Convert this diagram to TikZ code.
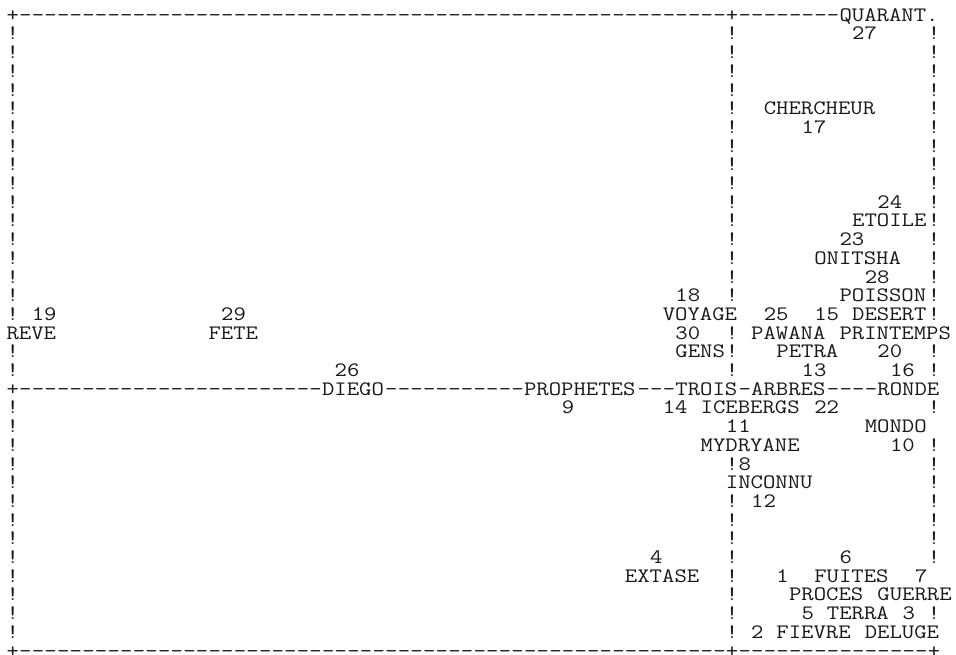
\documentclass[tikz,border=0pt]{standalone}
\usepackage{fontspec}
\usepackage{graphicx}
\newcommand\sx[1]{\scalebox{1.1726}[1]{#1}}
% text chunk placed at column #2, row #3
\newcommand\lbl[4]{\node[lab] (#1) at ({6.6+12.62*(#2)},{-21.2-18.7*(#3)}) {\sx{#4}};}
\tikzset{lab/.style={anchor=base west, inner sep=0pt, outer sep=0pt,
  font=\fontsize{20.5}{20.5}\selectfont\ttfamily, text=black!90}}
\begin{document}
\begin{tikzpicture}[x=1pt,y=1pt]
\fill[white] (0,-654) rectangle (956,0);
\useasboundingbox (0,-654) rectangle (956,0);
% vertical borders
\foreach \r in {1,2,3,4,5,6,7,8,9,10,11,12,13,14,15,16,18,19,21,22,23,24,25,26,27,28,29,30,31,32,33}
  {\lbl{bl\r}{0}{\r}{!}}
\foreach \r in {1,2,3,4,5,6,7,8,9,10,11,12,13,14,15,17,18,19,24,26,27,28,29,30,31,32,33}
  {\lbl{bm\r}{57}{\r}{!}}
\foreach \r in {1,2,3,4,5,6,7,8,9,10,11,12,13,14,15,16,18,19,21,23,24,25,26,27,28,29,32}
  {\lbl{br\r}{73}{\r}{!}}
% top line
\lbl{ctl}{0}{0}{+}
\foreach \c in {1,...,56} {\lbl{td\c}{\c}{0}{-}}
\lbl{ctm}{57}{0}{+}
\foreach \c in {58,...,65} {\lbl{td\c}{\c}{0}{-}}
\lbl{quarant}{66}{0}{QUARANT.}
% axis line
\lbl{cml}{0}{20}{+}
\foreach \c in {1,...,24} {\lbl{ad\c}{\c}{20}{-}}
\lbl{diego}{25}{20}{DIEGO}
\foreach \c in {30,...,40} {\lbl{ad\c}{\c}{20}{-}}
\lbl{prophetes}{41}{20}{PROPHETES}
\foreach \c in {50,51,52} {\lbl{ad\c}{\c}{20}{-}}
\lbl{trois}{53}{20}{TROIS}
\lbl{ad58}{58}{20}{-}
\lbl{arbres}{59}{20}{ARBRES}
\foreach \c in {65,...,68} {\lbl{ad\c}{\c}{20}{-}}
\lbl{ronde}{69}{20}{RONDE}
% bottom line
\lbl{cbl}{0}{34}{+}
\foreach \c in {1,...,56} {\lbl{bd\c}{\c}{34}{-}}
\lbl{cbm}{57}{34}{+}
\foreach \c in {58,...,72} {\lbl{bd\c}{\c}{34}{-}}
\lbl{cbr}{73}{34}{+}
% labels
\lbl{n27}{67}{1}{27}
\lbl{chercheur}{60}{5}{CHERCHEUR}
\lbl{n17}{63}{6}{17}
\lbl{n24}{69}{10}{24}
\lbl{etoile}{67}{11}{ETOILE}
\lbl{n23}{66}{12}{23}
\lbl{onitsha}{64}{13}{ONITSHA}
\lbl{n28}{68}{14}{28}
\lbl{n18}{53}{15}{18}
\lbl{poisson}{66}{15}{POISSON}
\lbl{n19}{2}{16}{19}
\lbl{n29}{17}{16}{29}
\lbl{voyage}{52}{16}{VOYAGE}
\lbl{n25}{60}{16}{25}
\lbl{n15}{64}{16}{15}
\lbl{desert}{67}{16}{DESERT}
\lbl{reve}{0}{17}{REVE}
\lbl{fete}{16}{17}{FETE}
\lbl{n30}{53}{17}{30}
\lbl{pawana}{59}{17}{PAWANA}
\lbl{printemps}{66}{17}{PRINTEMPS}
\lbl{gens}{53}{18}{GENS}
\lbl{petra}{61}{18}{PETRA}
\lbl{n20}{69}{18}{20}
\lbl{n26}{26}{19}{26}
\lbl{n13}{63}{19}{13}
\lbl{n16}{70}{19}{16}
\lbl{n9}{44}{21}{9}
\lbl{n14}{52}{21}{14}
\lbl{icebergs}{55}{21}{ICEBERGS}
\lbl{n22}{64}{21}{22}
\lbl{n11}{57}{22}{11}
\lbl{mondo}{68}{22}{MONDO}
\lbl{mydryane}{55}{23}{MYDRYANE}
\lbl{n10}{70}{23}{10}
\lbl{n8}{58}{24}{8}
\lbl{inconnu}{57}{25}{INCONNU}
\lbl{n12}{59}{26}{12}
\lbl{n4}{51}{29}{4}
\lbl{n6}{66}{29}{6}
\lbl{extase}{49}{30}{EXTASE}
\lbl{n1}{61}{30}{1}
\lbl{fuites}{64}{30}{FUITES}
\lbl{n7}{72}{30}{7}
\lbl{proces}{62}{31}{PROCES}
\lbl{guerre}{69}{31}{GUERRE}
\lbl{n5}{63}{32}{5}
\lbl{terra}{65}{32}{TERRA}
\lbl{n3}{71}{32}{3}
\lbl{n2}{59}{33}{2}
\lbl{fievre}{61}{33}{FIEVRE}
\lbl{deluge}{68}{33}{DELUGE}
\end{tikzpicture}
\end{document}
